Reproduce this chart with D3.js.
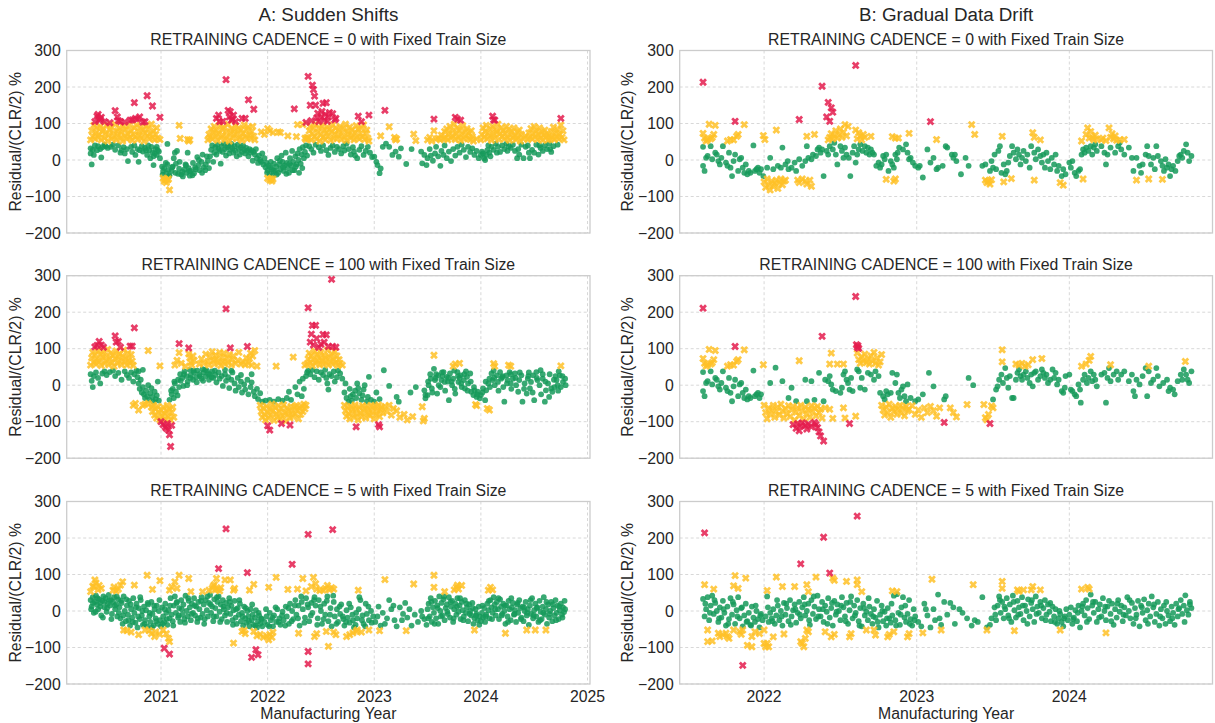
<!DOCTYPE html>
<html><head><meta charset="utf-8">
<script src="https://cdn.jsdelivr.net/npm/d3@7"></script>
<style>body{margin:0;background:#fff}svg{display:block}text{font-family:"Liberation Sans",Arial,sans-serif;fill:#262626}</style>
</head><body><svg id="c" width="1215" height="723"></svg>
<script>
// ---------- DATA: [manufacturing year, residual %] ----------
const a1Green=[[2020.34,32],[2020.34,18],[2020.35,-12],[2020.36,28],[2020.37,14],[2020.38,40],[2020.40,27],[2020.41,38],[2020.43,30],[2020.44,7],[2020.45,35],[2020.47,42],[2020.48,38],[2020.50,33],[2020.53,36],[2020.55,42],[2020.57,28],[2020.60,40],[2020.62,20],[2020.63,27],[2020.65,35],[2020.66,18],[2020.68,30],[2020.69,-3],[2020.72,36],[2020.73,22],[2020.75,40],[2020.76,14],[2020.78,30],[2020.79,-5],[2020.80,27],[2020.82,38],[2020.83,23],[2020.85,33],[2020.86,27],[2020.87,14],[2020.88,40],[2020.89,27],[2020.90,5],[2020.91,36],[2020.92,20],[2020.93,-14],[2020.94,18],[2020.95,30],[2020.96,14],[2020.97,27],[2020.98,23],[2020.99,5],[2020.96,36],[2020.93,10],
[2021.01,-18],[2021.02,-30],[2021.03,-22],[2021.05,-36],[2021.06,-12],[2021.07,-27],[2021.08,-42],[2021.10,-30],[2021.11,-18],[2021.12,5],[2021.13,20],[2021.14,-10],[2021.16,-38],[2021.17,-24],[2021.19,-40],[2021.20,-32],[2021.22,-26],[2021.23,-12],[2021.24,-35],[2021.26,-22],[2021.27,-43],[2021.28,-30],[2021.30,-8],[2021.31,-36],[2021.32,-20],[2021.34,8],[2021.35,-14],[2021.36,-28],[2021.38,-5],[2021.39,15],[2021.40,-20],[2021.42,-12],[2021.43,10],[2021.44,-2],[2021.45,-22],[2021.15,25],[2021.25,20],[2021.06,44],
[2021.46,10],[2021.47,28],[2021.48,40],[2021.49,-5],[2021.50,20],[2021.51,35],[2021.52,15],[2021.53,42],[2021.54,30],[2021.55,25],[2021.56,-10],[2021.57,38],[2021.58,22],[2021.59,45],[2021.60,30],[2021.61,12],[2021.62,35],[2021.63,40],[2021.64,18],[2021.65,28],[2021.66,44],[2021.67,32],[2021.68,20],[2021.69,38],[2021.70,25],[2021.71,10],[2021.72,42],[2021.73,30],[2021.74,15],[2021.75,35],[2021.76,22],[2021.77,40],[2021.78,28],[2021.79,18],[2021.80,33],[2021.81,25],[2021.82,10],[2021.83,30],[2021.84,20],[2021.85,26],[2021.86,-2],[2021.87,22],[2021.88,15],[2021.89,30],[2021.90,5],[2021.91,-8],[2021.92,12],[2021.93,0],[2021.94,-5],[2021.95,18],[2021.96,-12],[2021.97,5],
[2021.98,-20],[2021.99,-8],[2022.00,-28],[2022.01,-15],[2022.02,-38],[2022.03,-5],[2022.04,-25],[2022.05,-42],[2022.06,-10],[2022.07,-30],[2022.08,-18],[2022.09,5],[2022.10,-35],[2022.11,-12],[2022.12,-25],[2022.13,12],[2022.14,-5],[2022.15,-30],[2022.16,-15],[2022.17,20],[2022.18,-8],[2022.19,-22],[2022.20,-35],[2022.21,5],[2022.22,-15],[2022.23,25],[2022.24,-5],[2022.25,-28],[2022.26,10],[2022.27,-12],[2022.28,18],[2022.29,0],[2022.30,30],[2022.31,-10],[2022.32,15],[2022.33,35],[2022.34,5],[2022.35,22],[2022.36,40],[2022.37,12],
[2022.39,38],[2022.41,30],[2022.43,20],[2022.45,42],[2022.48,35],[2022.50,25],[2022.52,40],[2022.55,27],[2022.57,14],[2022.59,33],[2022.61,40],[2022.63,22],[2022.65,36],[2022.67,30],[2022.69,18],[2022.71,38],[2022.72,26],[2022.74,45],[2022.76,30],[2022.78,15],[2022.80,35],[2022.81,23],[2022.82,12],[2022.84,5],[2022.86,28],[2022.88,38],[2022.90,14],[2022.92,25],[2022.94,36],[2022.96,20],[2022.98,8],[2023.00,9],[2023.02,-5],[2023.03,-14],[2023.05,-36],[2023.06,-23],[2023.08,36],[2023.11,45],[2023.14,36],[2023.17,14],[2023.20,23],[2023.23,9],[2023.25,32],[2023.30,-11],[2023.35,30],[2023.44,23],[2023.45,-9],[2023.47,14],[2023.49,-14],[2023.50,5],[2023.52,30],[2023.53,12],[2023.55,-2],[2023.57,18],[2023.58,36],[2023.60,10],[2023.62,-16],[2023.63,25],[2023.65,14],[2023.66,40],[2023.68,5],[2023.70,23],[2023.72,-3],[2023.74,30],[2023.76,12],[2023.78,36],[2023.80,20],[2023.82,42],[2023.84,28],[2023.86,8],[2023.88,36],[2023.90,22],[2023.92,32],[2023.94,14],[2023.96,25],[2023.98,5],[2024.00,14],[2024.01,23],[2024.02,18],[2024.03,5],[2024.04,0],[2024.05,14],[2024.06,27],[2024.07,40],[2024.08,20],[2024.10,36],[2024.12,28],[2024.14,45],[2024.16,36],[2024.18,22],[2024.20,40],[2024.22,30],[2024.24,45],[2024.26,38],[2024.28,33],[2024.30,42],[2024.32,25],[2024.34,5],[2024.36,15],[2024.38,42],[2024.40,5],[2024.42,36],[2024.44,40],[2024.46,5],[2024.48,28],[2024.50,20],[2024.52,42],[2024.54,15],[2024.56,33],[2024.58,25],[2024.60,40],[2024.62,30],[2024.64,45],[2024.66,22],[2024.68,38]];
const a1GreenMore=[[2021.015,-40],[2021.045,-8],[2021.075,-45],[2021.105,-20],[2021.135,-35],[2021.175,-5],[2021.205,-45],[2021.235,-15],[2021.265,-30],[2021.295,-42],[2021.325,-25],[2021.355,0],[2021.385,-35],[2021.415,-28],[2021.995,-35],[2022.025,-20],[2022.055,-30],[2022.085,-40],[2022.115,-2],[2022.145,-20],[2022.175,-38],[2022.205,-10],[2022.235,-28],[2022.265,-18],[2022.295,-35],[2022.325,-22],[2024.09,10],[2024.15,20],[2024.25,25],[2024.35,30],[2024.45,20],[2024.55,40],[2024.65,30],[2024.72,42]];
const a1Yellow=[[2020.34,55],[2020.35,80],[2020.36,65],[2020.37,95],[2020.38,58],[2020.39,75],[2020.40,88],[2020.41,62],[2020.42,70],[2020.43,92],[2020.44,55],[2020.45,78],[2020.46,85],[2020.47,60],[2020.48,72],[2020.49,96],[2020.50,52],[2020.51,68],[2020.52,82],[2020.53,90],[2020.54,58],[2020.55,75],[2020.56,64],[2020.57,98],[2020.58,55],[2020.59,80],[2020.60,70],[2020.61,88],[2020.62,60],[2020.63,76],[2020.64,52],[2020.65,92],[2020.66,66],[2020.67,84],[2020.68,58],[2020.69,72],[2020.70,95],[2020.71,62],[2020.72,80],[2020.73,54],[2020.74,70],[2020.75,88],[2020.76,64],[2020.77,96],[2020.78,56],[2020.79,78],[2020.80,68],[2020.81,90],[2020.82,60],[2020.83,82],[2020.84,52],[2020.85,74],[2020.86,94],[2020.87,66],[2020.88,86],[2020.89,58],[2020.90,72],[2020.91,98],[2020.92,62],[2020.93,80],[2020.94,55],[2020.95,70],[2020.96,88],[2020.97,60],[2020.99,56],
[2021.02,-50],[2021.03,-58],[2021.04,-54],[2021.05,-62],[2021.06,-55],[2021.07,-52],[2021.08,-82],[2021.17,95],[2021.18,59],[2021.25,56],[2021.27,55],[2021.26,52],
[2021.44,55],[2021.45,70],[2021.46,62],[2021.47,85],[2021.48,58],[2021.49,76],[2021.50,92],[2021.51,65],[2021.52,80],[2021.53,54],[2021.54,72],[2021.55,96],[2021.56,60],[2021.57,84],[2021.58,68],[2021.59,90],[2021.60,56],[2021.61,78],[2021.62,64],[2021.63,98],[2021.64,52],[2021.65,74],[2021.66,86],[2021.67,60],[2021.68,80],[2021.69,70],[2021.70,94],[2021.71,58],[2021.72,76],[2021.73,88],[2021.74,62],[2021.75,82],[2021.76,54],[2021.77,72],[2021.78,96],[2021.79,66],[2021.80,84],[2021.81,58],[2021.82,90],[2021.83,70],[2021.84,60],[2021.85,78],[2021.86,92],[2021.87,65],[2021.88,55],
[2021.94,77],[2021.97,70],[2022.00,86],[2022.02,80],[2022.05,75],[2022.10,77],[2022.12,75],[2022.19,66],[2022.27,64],[2022.28,97],[2022.33,97],[2022.35,60],[2022.37,62],[2022.36,56],[2022.00,-50],[2022.02,-55],[2022.04,-58],[2022.05,-52],[2022.03,-52],
[2022.38,60],[2022.39,80],[2022.40,92],[2022.41,55],[2022.42,72],[2022.43,86],[2022.44,64],[2022.45,98],[2022.46,58],[2022.47,76],[2022.48,88],[2022.49,52],[2022.50,70],[2022.51,94],[2022.52,62],[2022.53,82],[2022.54,56],[2022.55,74],[2022.56,90],[2022.57,66],[2022.58,84],[2022.59,54],[2022.60,78],[2022.61,96],[2022.62,60],[2022.63,72],[2022.64,88],[2022.65,58],[2022.66,80],[2022.67,68],[2022.68,92],[2022.69,56],[2022.70,74],[2022.71,86],[2022.72,62],[2022.73,98],[2022.74,54],[2022.75,78],[2022.76,70],[2022.77,90],[2022.78,60],[2022.79,82],[2022.80,66],[2022.81,55],[2022.82,76],[2022.83,94],[2022.84,62],[2022.85,84],[2022.86,58],[2022.87,72],[2022.88,88],[2022.89,64],[2022.90,96],[2022.91,56],[2022.92,74],[2022.93,82],[2022.94,60],[2022.95,52],
[2023.06,66],[2023.14,91],[2023.19,62],[2023.20,55],[2023.21,58],[2023.37,71],[2023.39,53],[2023.50,55],[2023.52,62],[2023.54,52],[2023.56,80],[2023.58,58],
[2023.60,60],[2023.62,55],[2023.63,68],[2023.65,58],[2023.66,78],[2023.67,62],[2023.68,85],[2023.69,55],[2023.70,72],[2023.71,92],[2023.72,60],[2023.73,80],[2023.74,66],[2023.75,98],[2023.76,56],[2023.77,74],[2023.78,88],[2023.79,62],[2023.80,82],[2023.81,54],[2023.82,70],[2023.83,94],[2023.84,58],[2023.85,78],[2023.86,66],[2023.87,86],[2023.88,60],[2023.89,74],[2023.90,56],[2023.91,80],[2023.92,64],[2023.93,52],[2023.96,58],
[2024.00,55],[2024.01,70],[2024.02,88],[2024.03,62],[2024.04,78],[2024.05,95],[2024.06,58],[2024.07,74],[2024.08,66],[2024.09,86],[2024.10,54],[2024.11,92],[2024.12,70],[2024.13,60],[2024.14,82],[2024.15,76],[2024.16,98],[2024.17,56],[2024.18,72],[2024.19,88],[2024.20,64],[2024.21,80],[2024.22,58],[2024.23,74],[2024.24,92],[2024.25,62],[2024.26,84],[2024.27,54],[2024.28,70],[2024.29,78],[2024.30,60],[2024.31,88],[2024.32,66],[2024.33,56],[2024.34,76],[2024.35,62],[2024.36,82],[2024.37,52],[2024.38,70],[2024.40,58],[2024.42,66],[2024.44,56],[2024.45,74],[2024.46,62],[2024.47,86],[2024.48,58],[2024.49,72],[2024.50,92],[2024.51,64],[2024.52,80],[2024.53,56],[2024.54,70],[2024.55,88],[2024.56,60],[2024.57,76],[2024.58,54],[2024.59,68],[2024.60,82],[2024.61,62],[2024.62,72],[2024.63,55],[2024.64,66],[2024.65,58],[2024.66,78],[2024.67,62],[2024.68,90],[2024.69,56],[2024.70,74],[2024.71,64],[2024.72,84],[2024.73,58],[2024.74,70],[2024.75,96],[2024.76,62],[2024.77,80],[2024.78,55]];
const a1Red=[[2020.38,105],[2020.40,120],[2020.41,125],[2020.42,109],[2020.43,112],[2020.44,117],[2020.47,105],[2020.52,102],[2020.57,135],[2020.59,118],[2020.60,108],[2020.62,105],[2020.66,104],[2020.71,109],[2020.73,110],[2020.75,157],[2020.76,114],[2020.78,112],[2020.80,118],[2020.83,104],[2020.85,105],[2020.87,176],[2020.92,148],[2020.99,117],
[2021.52,114],[2021.54,123],[2021.55,105],[2021.58,106],[2021.61,220],[2021.63,136],[2021.64,118],[2021.65,132],[2021.66,109],[2021.67,112],[2021.68,123],[2021.70,105],[2021.76,114],[2021.79,114],[2021.82,165],[2021.87,139],
[2022.25,140],[2022.36,103],[2022.38,229],[2022.40,150],[2022.41,108],[2022.42,205],[2022.43,193],[2022.44,175],[2022.45,150],[2022.46,115],[2022.47,128],[2022.48,105],[2022.50,118],[2022.51,133],[2022.52,155],[2022.53,110],[2022.54,125],[2022.55,157],[2022.56,106],[2022.57,118],[2022.58,130],[2022.61,127],[2022.63,110],[2022.64,114],[2022.85,120],[2022.88,105],[2022.95,123],[2023.10,136],[2023.56,112],[2023.76,117],[2023.78,112],[2023.81,109],[2024.11,120],[2024.12,110],[2024.13,109],[2024.75,114]];

const a2Green=[[2020.34,30],[2020.35,12],[2020.36,-5],[2020.37,25],[2020.39,35],[2020.41,20],[2020.43,5],[2020.45,32],[2020.47,38],[2020.49,28],[2020.52,36],[2020.55,40],[2020.57,25],[2020.60,34],[2020.63,15],[2020.66,38],[2020.68,28],[2020.70,20],[2020.72,35],[2020.74,10],[2020.75,30],
[2020.77,40],[2020.78,22],[2020.79,5],[2020.80,-10],[2020.81,15],[2020.82,-20],[2020.83,-5],[2020.84,-25],[2020.85,-35],[2020.86,-15],[2020.87,-30],[2020.88,0],[2020.89,-40],[2020.90,-22],[2020.91,-8],[2020.92,-32],[2020.93,-45],[2020.94,-18],[2020.95,-38],[2020.96,-28],[2020.97,10],[2020.98,-42],[2020.79,38],[2020.83,42],
[2021.08,-40],[2021.10,-25],[2021.11,-10],[2021.12,-35],[2021.13,5],[2021.14,-18],[2021.16,15],[2021.17,-5],[2021.18,30],[2021.20,20],[2021.21,-2],[2021.22,38],[2021.24,25],[2021.25,10],[2021.27,42],[2021.28,28],[2021.30,15],[2021.31,35],[2021.33,22],[2021.34,40],[2021.36,30],[2021.38,18],[2021.39,44],
[2021.40,35],[2021.42,25],[2021.43,40],[2021.45,15],[2021.46,30],[2021.48,38],[2021.49,20],[2021.51,28],[2021.52,8],[2021.54,35],[2021.55,18],[2021.57,25],[2021.58,-2],[2021.60,30],[2021.61,12],[2021.63,22],[2021.64,-8],[2021.66,15],[2021.67,35],[2021.69,5],[2021.70,-15],[2021.72,20],[2021.73,-5],[2021.75,10],[2021.76,-20],[2021.78,2],[2021.79,-12],[2021.81,15],[2021.82,-25],[2021.84,-5],[2021.85,8],[2021.87,-18],[2021.88,-30],[2021.90,-10],[2021.91,-38],[2021.93,-22],[2021.95,-45],[2021.60,42],[2021.66,40],[2021.75,28],[2021.85,30],
[2021.98,-42],[2022.02,-40],[2022.06,-45],[2022.10,-38],[2022.14,-42],[2022.18,-35],[2022.20,-18],[2022.22,-40],[2022.26,-5],[2022.28,-25],[2022.30,10],[2022.32,-30],[2022.33,18],[2022.34,-10],[2022.36,25],[2022.37,35],[2022.38,40],
[2022.40,30],[2022.42,42],[2022.44,22],[2022.46,38],[2022.48,15],[2022.50,35],[2022.52,28],[2022.54,42],[2022.55,20],[2022.56,5],[2022.57,-12],[2022.58,30],[2022.60,25],[2022.62,38],[2022.63,10],[2022.65,22],[2022.66,40],[2022.68,32],[2022.70,18],
[2022.72,-20],[2022.73,5],[2022.74,-35],[2022.76,-45],[2022.77,-10],[2022.78,-30],[2022.79,-42],[2022.80,-25],[2022.82,-15],[2022.83,-35],[2022.84,5],[2022.85,-8],[2022.86,-22],[2022.88,-40],[2022.89,-28],[2022.90,-12],[2022.91,0],[2022.93,-45],[2022.94,-32],[2022.95,23],[2022.97,-40],[2023.00,-45],[2023.02,-20],[2023.05,-38],[2023.09,41],[2023.14,-2],[2023.21,-32],[2023.23,-45],[2023.34,-20],[2023.39,-5],[2023.48,-27],
[2023.47,-14],[2023.48,-36],[2023.50,-27],[2023.51,0],[2023.53,18],[2023.54,-9],[2023.56,45],[2023.57,14],[2023.59,-23],[2023.60,27],[2023.62,-5],[2023.63,14],[2023.65,36],[2023.66,9],[2023.68,23],[2023.70,-41],[2023.71,32],[2023.73,0],[2023.74,18],[2023.76,-23],[2023.78,36],[2023.79,9],[2023.81,27],[2023.82,-5],[2023.84,14],[2023.85,-9],[2023.87,23],[2023.88,5],[2023.90,32],[2023.91,-18],[2023.93,-27],[2023.94,-14],[2023.96,-32],[2023.97,-18],[2023.99,-36],[2024.00,-27],[2024.02,-9],[2024.04,-41],[2024.05,-14],[2024.07,5],[2024.08,18],[2024.10,32],[2024.11,14],[2024.13,0],[2024.15,27],[2024.16,9],[2024.18,36],[2024.19,18],[2024.21,-5],[2024.22,-45],[2024.24,27],[2024.25,14],[2024.27,36],[2024.28,5],[2024.30,18],[2024.32,32],[2024.33,0],[2024.35,-18],[2024.36,14],[2024.38,27],[2024.39,-45],[2024.41,5],[2024.43,-23],[2024.44,18],[2024.46,-9],[2024.47,9],[2024.49,27],[2024.50,-41],[2024.52,36],[2024.53,14],[2024.55,0],[2024.56,41],[2024.58,18],[2024.60,-45],[2024.61,-14],[2024.63,5],[2024.64,-32],[2024.66,-9],[2024.67,-18],[2024.69,-5],[2024.71,14],[2024.72,0],[2024.74,27],[2024.75,-5],[2024.77,9],[2024.79,18],
[2023.58,30],[2023.64,25],[2023.69,10],[2023.75,40],[2023.80,20],[2023.86,38],[2024.12,40],[2024.20,22],[2024.28,30],[2024.45,35],[2024.58,30],[2024.70,25],[2024.73,38]];
const a2GreenMore=[[2021.095,-15],[2021.125,10],[2021.155,-28],[2021.185,12],[2021.215,30],[2021.245,0],[2021.275,20],[2021.305,40],[2021.335,8],[2021.365,25],[2021.395,12],[2021.415,42],[2021.445,30],[2021.475,22],[2021.505,40],
[2023.505,10],[2023.525,30],[2023.545,-20],[2023.575,20],[2023.605,0],[2023.635,35],[2023.665,-15],[2023.695,20],[2023.725,10],[2023.755,-10],[2023.785,25],[2023.815,5],[2023.845,30],[2023.875,-15],[2023.905,10],[2023.935,-5],[2023.965,-25],[2024.015,-20],[2024.045,10],[2024.085,-5],[2024.125,20],[2024.165,-15],[2024.205,25],[2024.245,5],[2024.285,-10],[2024.325,20],[2024.365,35],[2024.405,-10],[2024.445,25],[2024.485,-20],[2024.525,20],[2024.565,-25],[2024.605,10],[2024.645,30],[2024.685,15],[2024.725,-15],[2024.765,25],[2024.795,0]];
const a2Yellow=[[2020.34,55],[2020.35,75],[2020.36,90],[2020.37,62],[2020.38,82],[2020.39,58],[2020.40,70],[2020.41,95],[2020.42,65],[2020.43,85],[2020.44,54],[2020.45,76],[2020.46,92],[2020.47,60],[2020.48,80],[2020.49,68],[2020.50,98],[2020.51,56],[2020.52,74],[2020.53,88],[2020.54,62],[2020.55,82],[2020.56,52],[2020.57,72],[2020.58,94],[2020.59,60],[2020.60,78],[2020.61,86],[2020.62,66],[2020.63,56],[2020.64,80],[2020.65,96],[2020.66,64],[2020.67,74],[2020.68,55],[2020.69,88],[2020.70,70],[2020.71,60],[2020.72,84],[2020.73,66],[2020.74,54],[2020.88,95],[2020.99,53],
[2020.74,-55],[2020.76,-50],[2020.79,-68],[2020.83,-55],[2020.85,-52],[2020.88,-50],[2020.91,-60],[2020.92,-72],[2020.93,-55],[2020.94,-82],[2020.95,-65],[2020.96,-90],[2020.97,-58],[2020.98,-75],[2020.99,-95],[2021.00,-68],[2021.01,-85],[2021.02,-60],[2021.03,-78],[2021.04,-92],[2021.05,-70],[2021.06,-55],[2021.07,-85],[2021.08,-65],[2021.09,-95],[2021.10,-75],[2021.11,-60],[2021.12,-88],
[2021.13,55],[2021.15,68],[2021.17,89],[2021.19,60],[2021.23,52],[2021.26,86],[2021.27,75],[2021.28,62],[2021.29,55],[2021.30,80],[2021.31,68],
[2021.36,58],[2021.38,72],[2021.40,60],[2021.42,85],[2021.44,65],[2021.45,55],[2021.46,78],[2021.48,92],[2021.49,68],[2021.50,58],[2021.51,82],[2021.52,72],[2021.54,62],[2021.55,90],[2021.56,54],[2021.57,76],[2021.58,66],[2021.59,88],[2021.60,58],[2021.62,74],[2021.63,62],[2021.64,84],[2021.66,55],[2021.67,70],[2021.68,80],[2021.70,60],[2021.72,68],[2021.73,90],[2021.75,58],[2021.77,64],[2021.79,56],[2021.80,75],[2021.82,60],[2021.83,73],[2021.84,88],[2021.85,55],[2021.86,80],[2021.88,95],[2021.90,52],
[2021.93,-55],[2021.94,-72],[2021.95,-88],[2021.96,-62],[2021.97,-80],[2021.98,-95],[2021.99,-58],[2022.00,-75],[2022.01,-90],[2022.02,-65],[2022.03,-82],[2022.04,-52],[2022.05,-70],[2022.06,-96],[2022.07,-60],[2022.08,-78],[2022.09,-88],[2022.10,-56],[2022.11,-72],[2022.12,-92],[2022.13,-64],[2022.14,-84],[2022.15,-54],[2022.16,-76],[2022.17,-98],[2022.18,-62],[2022.19,-80],[2022.20,-70],[2022.21,-90],[2022.22,-58],[2022.23,-74],[2022.24,-86],[2022.25,-60],[2022.26,-78],[2022.27,-55],[2022.28,-68],[2022.29,-92],[2022.30,-62],[2022.31,-80],[2022.32,-58],[2022.33,-72],[2022.34,-52],[2022.35,-65],[2022.36,-55],
[2022.08,52],[2022.24,77],[2022.35,55],
[2022.37,58],[2022.38,72],[2022.39,88],[2022.40,62],[2022.41,80],[2022.42,54],[2022.43,70],[2022.44,94],[2022.45,60],[2022.46,84],[2022.47,66],[2022.48,76],[2022.49,56],[2022.50,90],[2022.51,68],[2022.52,58],[2022.53,82],[2022.54,74],[2022.55,62],[2022.56,96],[2022.57,55],[2022.58,78],[2022.59,66],[2022.60,86],[2022.61,58],[2022.62,72],[2022.63,92],[2022.64,62],[2022.65,80],[2022.66,54],[2022.67,70],[2022.68,60],[2022.70,55],
[2022.72,-55],[2022.73,-70],[2022.74,-85],[2022.75,-60],[2022.76,-78],[2022.77,-92],[2022.78,-58],[2022.79,-74],[2022.80,-65],[2022.81,-88],[2022.82,-54],[2022.83,-80],[2022.84,-68],[2022.85,-95],[2022.86,-60],[2022.87,-76],[2022.88,-86],[2022.89,-56],[2022.90,-72],[2022.91,-64],[2022.92,-90],[2022.93,-58],[2022.94,-78],[2022.95,-68],[2022.96,-84],[2022.97,-55],[2022.98,-74],[2022.99,-62],[2023.00,-92],[2023.01,-58],[2023.02,-80],[2023.03,-70],[2023.04,-54],[2023.05,-86],[2023.06,-66],[2023.07,-60],[2023.08,-76],[2023.10,-58],[2023.12,-72],[2023.14,-55],[2023.16,-82],[2023.18,-64],[2023.21,-70],[2023.24,-88],[2023.28,-80],[2023.31,-95],[2023.36,-86],[2023.45,-59],[2023.47,-91],[2023.46,-98],
[2023.56,82],[2023.74,52],[2023.76,58],[2023.80,60],[2024.12,59],[2024.13,52],[2024.26,55],[2024.28,52],[2024.75,53],[2023.95,-53],[2023.96,-56],[2024.06,-64],[2024.08,-68]];
const a2Red=[[2020.38,105],[2020.40,109],[2020.42,120],[2020.44,110],[2020.46,104],[2020.57,135],[2020.58,118],[2020.60,120],[2020.62,104],[2020.71,107],[2020.73,107],[2020.75,157],
[2021.00,-100],[2021.02,-108],[2021.04,-114],[2021.05,-118],[2021.06,-105],[2021.07,-123],[2021.08,-136],[2021.09,-168],[2021.10,-110],
[2021.17,114],[2021.26,102],[2021.61,209],[2021.65,102],[2021.81,106],
[2022.00,-111],[2022.02,-123],[2022.13,-105],[2022.21,-109],
[2022.38,212],[2022.40,118],[2022.41,140],[2022.42,164],[2022.43,110],[2022.45,164],[2022.46,128],[2022.48,104],[2022.50,112],[2022.52,139],[2022.53,118],[2022.55,138],[2022.57,106],[2022.60,290],[2022.61,106],[2022.64,104],
[2022.83,-114],[2023.05,-114],[2023.04,-108]];

const a3Green=[[2020.34,30],[2020.35,12],[2020.36,38],[2020.37,-5],[2020.38,25],[2020.39,42],[2020.40,18],[2020.41,5],[2020.42,32],[2020.43,22],[2020.44,-12],[2020.45,28],[2020.46,40],[2020.47,10],[2020.48,35],[2020.49,-2],[2020.50,20],[2020.51,44],[2020.52,15],[2020.53,30],[2020.54,-8],[2020.55,25],[2020.56,38],[2020.57,5],[2020.58,18],[2020.59,-15],[2020.60,32],
[2020.61,10],[2020.62,-20],[2020.63,22],[2020.64,-35],[2020.65,40],[2020.66,0],[2020.67,-28],[2020.68,15],[2020.69,-10],[2020.70,28],[2020.71,-40],[2020.72,5],[2020.73,-18],[2020.74,35],[2020.75,-5],[2020.76,-32],[2020.77,20],[2020.78,-45],[2020.79,8],[2020.80,-22],[2020.81,30],[2020.82,-12],[2020.83,-38],[2020.84,12],[2020.85,-25],[2020.86,2],[2020.87,-42],[2020.88,18],[2020.89,-15],[2020.90,-30],[2020.91,25],[2020.92,-8],[2020.93,-40],[2020.94,5],[2020.95,-20],[2020.96,15],[2020.97,-35],[2020.98,0],[2020.99,-25],[2021.00,-42],[2021.01,10],[2021.02,-15],[2021.03,-30],[2021.04,20],[2021.05,-5],[2021.06,-38],[2021.07,2],[2021.08,-20],[2021.09,35],[2021.10,-10],
[2021.11,-28],[2021.12,15],[2021.13,40],[2021.14,-5],[2021.15,25],[2021.16,-18],[2021.17,8],[2021.18,-30],[2021.19,30],[2021.20,-10],[2021.21,18],[2021.22,-22],[2021.23,42],[2021.24,0],[2021.25,-15],[2021.26,28],[2021.27,10],[2021.28,-25],[2021.29,20],[2021.30,-5],[2021.31,35],[2021.32,-12],[2021.33,12],[2021.34,-30],[2021.35,25],[2021.36,5],[2021.37,-18],[2021.38,38],[2021.39,-8],[2021.40,18],[2021.41,-22],[2021.42,30],[2021.43,2],[2021.44,-15],[2021.45,22],[2021.46,44],[2021.47,-5],[2021.48,12],[2021.49,-28],[2021.50,32],
[2021.51,8],[2021.52,-15],[2021.53,25],[2021.54,40],[2021.55,-2],[2021.56,18],[2021.57,-22],[2021.58,30],[2021.59,5],[2021.60,-12],[2021.61,22],[2021.62,-30],[2021.63,10],[2021.64,35],[2021.65,-8],[2021.66,15],[2021.67,-25],[2021.68,2],[2021.69,28],[2021.70,-18],[2021.71,-35],[2021.72,8],[2021.73,-10],[2021.74,20],[2021.75,-28],[2021.76,-5],[2021.77,-40],[2021.78,12],[2021.79,-20],[2021.80,-32],[2021.81,0],[2021.82,-15],[2021.83,-42],[2021.84,5],[2021.85,-25],[2021.86,-10],[2021.87,-38],[2021.88,-18],[2021.89,2],[2021.90,-45],[2021.91,-28],[2021.92,-12],[2021.93,-35],[2021.94,-20],[2021.95,-42],
[2021.97,-30],[2021.99,-15],[2022.00,-38],[2022.02,-5],[2022.03,-25],[2022.05,-42],[2022.06,-12],[2022.08,-30],[2022.09,5],[2022.11,-20],[2022.12,-38],[2022.14,-2],[2022.15,-25],[2022.17,12],[2022.18,-15],[2022.20,-35],[2022.21,20],[2022.23,0],[2022.24,-22],[2022.26,30],[2022.27,-10],[2022.29,15],[2022.30,-40],[2022.32,25],[2022.33,5],[2022.35,-18],[2022.36,35],[2022.38,10],[2022.39,-28],[2022.41,22],[2022.42,-5],[2022.44,38],
[2022.45,15],[2022.47,-20],[2022.48,30],[2022.50,0],[2022.51,-35],[2022.53,20],[2022.54,-10],[2022.56,40],[2022.57,-28],[2022.59,8],[2022.60,-42],[2022.62,25],[2022.63,-15],[2022.65,5],[2022.66,-30],[2022.68,-8],[2022.69,18],[2022.71,-22],[2022.72,-40],[2022.74,2],[2022.75,-18],[2022.77,-32],[2022.78,10],[2022.80,-25],[2022.81,-45],[2022.83,-5],[2022.84,-20],[2022.86,38],[2022.87,30],[2022.89,-12],[2022.90,-35],[2022.92,20],[2022.93,-8],[2022.95,-25],[2022.97,0],[2022.99,-15],
[2023.01,-30],[2023.04,12],[2023.06,-40],[2023.08,-5],[2023.12,-20],[2023.14,30],[2023.16,5],[2023.19,-25],[2023.21,-42],[2023.24,10],[2023.27,-8],[2023.29,22],[2023.31,-18],[2023.35,-40],[2023.38,-10],[2023.41,-30],[2023.44,0],[2023.47,-22],[2023.49,-38],
[2023.50,5],[2023.51,20],[2023.52,-15],[2023.53,35],[2023.54,-30],[2023.55,10],[2023.56,-5],[2023.57,28],[2023.58,-20],[2023.59,15],[2023.60,-35],[2023.61,40],[2023.62,0],[2023.63,22],[2023.64,-12],[2023.65,32],[2023.66,-25],[2023.67,8],[2023.68,18],[2023.69,-8],[2023.70,38],[2023.71,-18],[2023.72,12],[2023.73,28],[2023.74,-30],[2023.75,5],[2023.76,20],[2023.77,-10],[2023.78,35],[2023.79,-2],[2023.80,15],[2023.81,-22],[2023.82,25],[2023.83,2],[2023.84,-15],[2023.85,30],[2023.86,-5],[2023.87,10],[2023.88,-28],[2023.89,18],[2023.90,0],[2023.91,-12],[2023.92,22],[2023.93,-35],[2023.94,-20],[2023.95,5],[2023.96,-8],[2023.97,-25],[2023.98,12],[2023.99,-15],
[2024.00,-28],[2024.01,-5],[2024.02,-18],[2024.03,8],[2024.04,-30],[2024.05,-10],[2024.06,20],[2024.07,2],[2024.08,-20],[2024.09,30],[2024.10,10],[2024.11,-5],[2024.12,38],[2024.13,18],[2024.14,-12],[2024.15,25],[2024.16,5],[2024.17,-22],[2024.18,32],[2024.19,12],[2024.20,-8],[2024.21,20],[2024.22,0],[2024.23,-35],[2024.24,15],[2024.25,-15],[2024.26,28],[2024.27,5],[2024.28,-25],[2024.29,10],[2024.30,22],[2024.31,-10],[2024.32,2],[2024.33,-30],[2024.34,18],[2024.35,-5],[2024.36,30],[2024.37,8],[2024.38,-18],[2024.39,12],[2024.40,-28],[2024.41,0],[2024.42,25],[2024.43,-12],[2024.44,5],[2024.45,-38],[2024.46,15],[2024.47,-8],[2024.48,35],[2024.49,-20],[2024.50,2],[2024.51,20],[2024.52,-15],[2024.53,10],[2024.54,-30],[2024.55,28],[2024.56,-2],[2024.57,-22],[2024.58,12],[2024.59,38],[2024.60,-10],[2024.61,5],[2024.62,-35],[2024.63,18],[2024.64,-18],[2024.65,0],[2024.66,25],[2024.67,-28],[2024.68,8],[2024.69,-12],[2024.70,30],[2024.71,-5],[2024.72,15],[2024.73,-22],[2024.74,2],[2024.75,20],[2024.76,-10],[2024.77,10],[2024.78,-3],[2024.79,5]];
const a3GreenMore=[[2020.345,5],[2020.362,22],[2020.388,-2],[2020.405,35],[2020.43,12],[2020.455,-18],[2020.47,25],[2020.495,8],[2020.515,30],[2020.535,-22],[2020.565,15],[2020.585,40],[2020.605,-5],[2020.625,28],[2020.645,-12],[2020.675,32],[2020.695,-25],[2020.715,18],[2020.735,-30],[2020.765,10],[2020.785,-15],[2020.805,38],[2020.825,0],[2020.845,-35],[2020.875,22],[2020.895,-5],[2020.915,-45],[2020.935,15],[2020.955,-28],[2020.985,30],[2021.015,-35],[2021.035,5],[2021.055,-22],[2021.085,15],[2021.115,-40],[2021.145,22],[2021.165,-12],[2021.195,5],[2021.225,-32],[2021.255,35],[2021.285,-8],[2021.315,15],[2021.345,-20],[2021.375,28],[2021.405,-35],[2021.435,40],[2021.465,18],[2021.495,-15],[2021.525,38],[2021.555,-30],[2021.585,12],[2021.615,-5],[2021.645,25],[2021.675,-38],[2021.705,5],[2021.735,30],[2021.765,-15],[2021.795,8],[2021.825,-28],[2021.855,18],[2021.885,-40],[2021.915,-5],[2021.945,-22],[2021.985,5],[2022.015,-42],[2022.045,-18],[2022.075,10],[2022.105,-30],[2022.135,-12],[2022.165,-40],[2022.195,8],[2022.225,-28],[2022.255,15],[2022.285,-20],[2022.315,40],[2022.345,-32],[2022.375,18],[2022.405,-12],[2022.435,30],[2022.465,-38],[2022.495,12],[2022.525,-22],[2022.555,28],[2022.585,-10],[2022.615,42],[2022.645,-35],[2022.675,12],[2022.705,-15],[2022.735,-30],[2022.765,20],[2022.795,-10],[2022.825,-38],[2022.855,5],[2022.885,-25],[2022.915,-42],[2022.945,12],[2022.975,-32],[2023.03,-15],[2023.10,-35],[2023.18,15],[2023.26,-25],[2023.33,5],[2023.45,-15],[2023.505,-20],[2023.535,25],[2023.565,-35],[2023.595,8],[2023.625,-15],[2023.655,40],[2023.685,-2],[2023.715,25],[2023.745,-20],[2023.775,12],[2023.805,35],[2023.835,-25],[2023.865,20],[2023.895,-8],[2023.925,8],[2023.955,-12],[2023.985,-38],[2024.015,15],[2024.045,-15],[2024.075,28],[2024.105,-22],[2024.135,5],[2024.165,35],[2024.195,-12],[2024.225,15],[2024.255,-30],[2024.285,35],[2024.315,-8],[2024.345,22],[2024.375,-22],[2024.405,10],[2024.435,-5],[2024.465,30],[2024.495,-12],[2024.525,8],[2024.555,-25],[2024.585,-5],[2024.615,25],[2024.645,-8],[2024.675,18],[2024.705,-25],[2024.735,12],[2024.765,-18],[2024.785,28]];
const a3Yellow=[[2020.34,53],[2020.36,68],[2020.37,66],[2020.38,85],[2020.39,77],[2020.41,58],[2020.42,70],[2020.44,62],[2020.55,57],[2020.56,66],[2020.58,55],[2020.60,60],[2020.62,71],[2020.64,80],[2020.75,71],[2020.87,98],[2020.92,59],[2020.99,83],[2021.08,57],[2021.10,66],[2021.13,80],[2021.15,62],[2021.17,98],[2021.26,89],[2021.28,53],[2021.39,53],[2021.45,57],[2021.48,62],[2021.49,68],[2021.50,72],[2021.51,58],[2021.52,89],[2021.53,60],[2021.55,55],[2021.56,64],[2021.60,85],[2021.65,85],[2021.68,57],[2021.69,62],[2021.83,57],[2021.87,73],[2022.01,65],[2022.08,92],[2022.19,59],[2022.28,60],[2022.33,89],[2022.36,55],[2022.41,67],[2022.43,92],[2022.45,75],[2022.46,60],[2022.49,56],[2022.52,57],[2022.54,62],[2022.56,70],[2022.58,58],[2022.60,64],[2022.62,60],[2022.85,57],[2023.10,86],[2023.37,74],[2023.56,98],[2023.56,65],[2023.66,53],[2023.75,58],[2023.77,65],[2023.78,71],[2023.79,60],[2023.82,70],[2024.07,57],[2024.09,65],[2024.11,58],
[2020.65,-52],[2020.68,-54],[2020.72,-58],[2020.79,-65],[2020.85,-52],[2020.89,-54],[2020.91,-62],[2020.94,-70],[2020.95,-57],[2020.99,-64],[2021.02,-52],[2021.05,-62],[2021.07,-75],[2021.08,-84],[2021.68,-88],[2021.76,-56],[2021.78,-53],[2021.79,-62],[2021.87,-56],[2021.90,-68],[2021.93,-64],[2021.96,-72],[2021.99,-68],[2022.01,-79],[2022.02,-64],[2022.04,-72],[2022.05,-58],[2022.29,-61],[2022.44,-70],[2022.46,-62],[2022.55,-56],[2022.57,-97],[2022.62,-58],[2022.64,-65],[2022.74,-70],[2022.77,-65],[2022.80,-60],[2022.83,-56],[2022.84,-52],[2022.88,-58],[2022.95,-52],[2023.05,-54],[2023.30,-54],[2023.94,-52],[2024.23,-61],[2024.43,-52],[2024.51,-52],[2024.61,-52]];
const a3Red=[[2021.03,-102],[2021.08,-118],[2021.54,116],[2021.61,225],[2021.81,105],[2021.85,-127],[2021.89,-106],[2021.91,-120],[2022.23,128],[2022.38,210],[2022.38,-111],[2022.38,-145],[2022.61,223]];

const b1Green=[[2021.60,36],[2021.60,-16],[2021.61,-30],[2021.62,6],[2021.63,11],[2021.65,38],[2021.66,2],[2021.68,20],[2021.69,15],[2021.70,-3],[2021.71,-12],[2021.72,6],[2021.73,38],[2021.75,-7],[2021.76,-16],[2021.77,20],[2021.78,-21],[2021.79,-44],[2021.80,-3],[2021.81,15],[2021.83,-30],[2021.84,2],[2021.85,6],[2021.86,-21],[2021.87,-35],[2021.88,-12],[2021.89,-39],[2021.90,-30],[2021.91,-35],[2021.93,40],[2021.94,-30],[2021.95,-25],[2021.96,-21],[2021.97,-35],[2021.98,-25],[2021.995,-44],[2022.02,-21],[2022.04,6],[2022.06,-25],[2022.09,-16],[2022.11,-21],[2022.12,34],[2022.14,-12],[2022.155,-3],[2022.16,-25],[2022.18,-21],[2022.20,-7],[2022.21,-30],[2022.23,2],[2022.25,-16],[2022.27,-3],[2022.28,38],[2022.29,6],[2022.31,2],[2022.32,15],[2022.34,11],[2022.35,29],[2022.36,34],[2022.37,20],[2022.38,29],[2022.39,-44],[2022.41,25],[2022.42,15],[2022.43,38],[2022.45,29],[2022.46,47],[2022.47,15],[2022.48,-12],[2022.50,38],[2022.51,25],[2022.52,6],[2022.53,34],[2022.54,15],[2022.555,6],[2022.565,-44],[2022.58,20],[2022.59,38],[2022.60,-7],[2022.61,15],[2022.62,29],[2022.63,43],[2022.645,25],[2022.66,38],[2022.67,20],[2022.68,34],[2022.69,15],[2022.70,29],[2022.71,20],[2022.72,15],[2022.735,-16],[2022.75,-7],[2022.76,-21],[2022.77,-12],[2022.78,11],[2022.79,2],[2022.80,15],[2022.815,-30],[2022.83,-3],[2022.84,-12],[2022.85,-21],[2022.86,15],[2022.87,2],[2022.875,20],[2022.885,34],[2022.91,29],[2022.93,43],[2022.94,20],[2022.95,2],[2022.96,6],[2022.975,-7],[2022.99,-16],[2023.01,-21],[2023.02,-16],[2023.04,-48],[2023.07,29],[2023.09,-7],[2023.11,6],[2023.13,-25],[2023.14,-21],[2023.17,-16],[2023.19,38],[2023.20,34],[2023.23,15],[2023.24,6],[2023.25,15],[2023.26,-3],[2023.29,-39],[2023.32,6],[2023.34,-16],[2023.43,-16],[2023.45,-12],[2023.48,-30],[2023.49,-3],[2023.50,-21],[2023.51,15],[2023.52,-25],[2023.535,25],[2023.545,38],[2023.555,-35],[2023.57,-12],[2023.58,-39],[2023.59,-30],[2023.60,-7],[2023.61,11],[2023.625,38],[2023.635,20],[2023.65,2],[2023.66,29],[2023.67,15],[2023.68,-12],[2023.69,6],[2023.70,25],[2023.715,-3],[2023.725,15],[2023.74,-21],[2023.75,38],[2023.77,20],[2023.78,2],[2023.795,29],[2023.81,11],[2023.82,-7],[2023.83,15],[2023.84,-21],[2023.85,20],[2023.86,-3],[2023.875,-25],[2023.885,6],[2023.90,-12],[2023.91,15],[2023.92,-30],[2023.93,-16],[2023.95,-44],[2023.96,-25],[2023.975,-39],[2024.00,-7],[2024.01,-21],[2024.02,-3],[2024.035,-35],[2024.045,-44],[2024.06,-30],[2024.07,-25],[2024.08,15],[2024.09,29],[2024.10,20],[2024.11,34],[2024.125,25],[2024.14,38],[2024.15,15],[2024.16,34],[2024.17,43],[2024.18,25],[2024.21,38],[2024.23,20],[2024.24,-12],[2024.25,15],[2024.27,34],[2024.30,20],[2024.32,38],[2024.33,47],[2024.34,29],[2024.36,15],[2024.39,34],[2024.41,6],[2024.42,-30],[2024.44,6],[2024.46,-16],[2024.47,-35],[2024.48,-12],[2024.50,15],[2024.51,38],[2024.52,11],[2024.535,-12],[2024.55,6],[2024.56,-25],[2024.57,38],[2024.58,11],[2024.60,-3],[2024.61,-16],[2024.62,-30],[2024.63,2],[2024.64,-21],[2024.65,-12],[2024.66,-44],[2024.67,-25],[2024.68,-16],[2024.695,-30],[2024.71,-3],[2024.72,11],[2024.73,15],[2024.74,6],[2024.75,25],[2024.765,43],[2024.775,20],[2024.785,-3],[2024.80,11]];
const b1Yellow=[[2021.60,73],[2021.61,60],[2021.62,52],[2021.63,56],[2021.64,98],[2021.65,58],[2021.66,62],[2021.67,70],[2021.68,95],[2021.76,52],[2021.78,56],[2021.80,55],[2021.82,65],[2021.83,70],[2021.87,97],[2021.995,67],[2022.005,56],[2022.08,82],[2022.28,65],[2022.33,70],[2022.42,55],[2022.43,62],[2022.44,72],[2022.45,58],[2022.46,66],[2022.47,80],[2022.48,60],[2022.49,70],[2022.50,85],[2022.51,62],[2022.52,76],[2022.53,97],[2022.54,66],[2022.55,92],[2022.60,82],[2022.61,58],[2022.62,75],[2022.63,65],[2022.64,55],[2022.65,70],[2022.66,62],[2022.70,65],[2022.84,64],[2022.86,60],[2022.88,60],[2022.95,73],[2023.13,56],[2023.36,97],[2023.38,70],[2023.56,65],[2023.76,75],[2023.77,62],[2023.81,55],[2024.08,52],[2024.11,70],[2024.12,88],[2024.13,60],[2024.14,78],[2024.15,62],[2024.16,55],[2024.17,68],[2024.18,58],[2024.21,55],[2024.22,60],[2024.24,53],[2024.26,88],[2024.27,62],[2024.28,72],[2024.29,58],[2024.30,66],[2024.31,54],[2024.33,55],[2024.36,56],
[2022.00,-60],[2022.01,-75],[2022.02,-52],[2022.03,-68],[2022.04,-82],[2022.05,-58],[2022.06,-72],[2022.07,-64],[2022.08,-55],[2022.09,-78],[2022.10,-62],[2022.11,-52],[2022.12,-68],[2022.13,-58],[2022.14,-55],[2022.22,-55],[2022.23,-62],[2022.25,-52],[2022.27,-58],[2022.28,-66],[2022.30,-55],[2022.31,-72],[2022.80,-53],[2022.86,-52],[2022.85,-58],[2023.45,-55],[2023.46,-62],[2023.47,-58],[2023.48,-66],[2023.49,-54],[2023.57,-60],[2023.62,-51],[2023.77,-55],[2023.94,-62],[2023.96,-69],[2024.09,-52],[2024.44,-55],[2024.52,-52],[2024.61,-53]];
const b1Red=[[2021.60,213],[2021.81,106],[2022.23,111],[2022.38,202],[2022.42,158],[2022.44,143],[2022.45,131],[2022.41,118],[2022.43,106],[2022.60,259],[2023.09,105]];

const b2Green=[[2021.60,36],[2021.60,-16],[2021.61,-30],[2021.62,6],[2021.63,11],[2021.65,38],[2021.66,2],[2021.68,20],[2021.69,15],[2021.70,-3],[2021.71,-12],[2021.72,6],[2021.73,38],[2021.75,-7],[2021.76,-16],[2021.77,20],[2021.78,-21],[2021.79,-44],[2021.80,-3],[2021.81,15],[2021.83,-30],[2021.84,2],[2021.85,6],[2021.86,-21],[2021.87,-35],[2021.88,-12],[2021.89,-39],[2021.90,-30],[2021.91,-35],[2021.93,40],[2021.94,-30],[2021.95,-25],[2021.96,-21],[2021.97,-35],[2021.98,-25],
[2022.04,6],[2022.075,48],[2022.12,11],[2022.16,-35],[2022.18,-7],[2022.21,-44],[2022.27,15],[2022.28,-44],[2022.31,11],[2022.33,-40],[2022.36,34],[2022.39,-44],[2022.40,15],[2022.42,11],[2022.43,25],[2022.44,2],[2022.45,-12],[2022.47,-16],[2022.50,-21],[2022.51,-7],[2022.52,29],[2022.53,38],[2022.54,15],[2022.55,6],[2022.56,-12],[2022.57,20],[2022.58,-16],[2022.61,43],[2022.62,38],[2022.63,-7],[2022.64,20],[2022.66,-12],[2022.68,34],[2022.70,29],[2022.72,15],[2022.73,38],[2022.75,25],
[2022.76,-21],[2022.78,-30],[2022.79,-39],[2022.80,-16],[2022.81,-25],[2022.83,-21],[2022.84,34],[2022.86,6],[2022.87,29],[2022.88,-21],[2022.89,-35],[2022.90,-12],[2022.91,-3],[2022.92,-30],[2022.93,-44],[2022.94,2],[2022.96,-35],[2022.99,-44],[2023.01,-39],[2023.04,-25],[2023.08,34],[2023.11,-3],[2023.18,-39],[2023.19,-30],[2023.34,20],[2023.37,0],
[2023.50,-39],[2023.52,-12],[2023.53,-3],[2023.54,15],[2023.555,29],[2023.565,6],[2023.58,47],[2023.59,20],[2023.60,-7],[2023.61,25],[2023.625,-35],[2023.635,-35],[2023.65,15],[2023.66,34],[2023.67,43],[2023.68,25],[2023.69,15],[2023.70,29],[2023.715,38],[2023.725,20],[2023.74,6],[2023.75,29],[2023.76,-3],[2023.77,34],[2023.78,38],[2023.795,15],[2023.81,25],[2023.82,43],[2023.83,34],[2023.84,20],[2023.85,29],[2023.86,6],[2023.875,15],[2023.89,43],[2023.90,20],[2023.91,34],[2023.92,2],[2023.93,15],[2023.95,-16],[2023.96,-21],[2023.97,-7],[2023.975,25],[2024.00,29],[2024.01,-12],[2024.02,-16],[2024.035,-25],[2024.045,-30],[2024.06,2],[2024.07,-12],[2024.075,-48],[2024.09,15],[2024.10,29],[2024.115,6],[2024.125,20],[2024.14,38],[2024.15,11],[2024.16,29],[2024.17,15],[2024.18,-3],[2024.21,29],[2024.23,34],[2024.24,-48],[2024.25,20],[2024.26,47],[2024.27,11],[2024.29,29],[2024.31,38],[2024.32,15],[2024.34,29],[2024.36,38],[2024.39,11],[2024.41,29],[2024.42,-16],[2024.43,-30],[2024.44,15],[2024.46,2],[2024.48,25],[2024.50,47],[2024.51,-30],[2024.52,38],[2024.535,6],[2024.55,15],[2024.57,47],[2024.58,25],[2024.59,-3],[2024.615,6],[2024.64,15],[2024.65,-16],[2024.66,-7],[2024.68,-12],[2024.69,-25],[2024.71,11],[2024.73,29],[2024.74,15],[2024.75,43],[2024.765,29],[2024.775,15],[2024.785,6],[2024.80,38]];
const b2Yellow=[[2021.60,73],[2021.61,60],[2021.62,52],[2021.63,56],[2021.64,98],[2021.65,58],[2021.66,62],[2021.67,70],[2021.68,95],[2021.76,52],[2021.78,56],[2021.80,55],[2021.82,65],[2021.83,70],[2021.87,97],[2021.995,56],[2022.23,67],[2022.44,88],[2022.43,58],[2022.48,58],[2022.52,58],[2022.61,88],[2022.62,70],[2022.63,60],[2022.64,78],[2022.65,66],[2022.66,85],[2022.67,62],[2022.68,72],[2022.69,58],[2022.70,80],[2022.71,66],[2022.72,90],[2022.73,60],[2022.74,75],[2022.75,55],[2022.77,84],[2022.76,64],[2023.56,97],[2023.56,64],[2023.65,58],[2023.67,55],[2023.69,60],[2023.71,52],[2023.73,56],[2023.76,70],[2023.82,73],[2024.08,52],[2024.11,58],[2024.14,79],[2024.13,68],[2024.27,56],[2024.52,52],[2024.76,65],
[2022.00,-55],[2022.01,-75],[2022.02,-92],[2022.03,-62],[2022.04,-80],[2022.05,-68],[2022.06,-55],[2022.07,-88],[2022.08,-72],[2022.09,-60],[2022.10,-82],[2022.11,-52],[2022.12,-70],[2022.13,-90],[2022.14,-64],[2022.15,-78],[2022.16,-56],[2022.17,-86],[2022.18,-68],[2022.19,-58],[2022.20,-95],[2022.21,-74],[2022.22,-62],[2022.23,-84],[2022.24,-55],[2022.25,-70],[2022.26,-92],[2022.27,-60],[2022.28,-78],[2022.29,-66],[2022.30,-88],[2022.31,-56],[2022.32,-72],[2022.33,-62],[2022.34,-84],[2022.35,-58],[2022.36,-75],[2022.37,-66],[2022.38,-90],[2022.40,-62],[2022.43,-66],[2022.45,-91],[2022.52,-62],[2022.53,-90],[2022.60,-85],
[2022.77,-55],[2022.78,-68],[2022.79,-82],[2022.80,-60],[2022.81,-75],[2022.82,-52],[2022.83,-88],[2022.84,-64],[2022.85,-72],[2022.86,-58],[2022.87,-80],[2022.88,-66],[2022.89,-55],[2022.90,-76],[2022.91,-62],[2022.92,-84],[2022.93,-58],[2022.94,-70],[2022.95,-66],[2022.97,-56],[2022.99,-80],[2023.01,-68],[2023.03,-88],[2023.05,-62],[2023.07,-75],[2023.09,-58],[2023.11,-70],[2023.13,-85],[2023.15,-62],[2023.22,-62],[2023.24,-75],[2023.26,-87],[2023.33,-53],[2023.44,-53],[2023.45,-89],[2023.46,-95],[2023.47,-80],[2023.49,-57],[2023.50,-62]];
const b2Red=[[2021.60,211],[2021.81,106],[2022.38,134],[2022.60,243],[2022.605,111],[2022.61,104],[2022.615,108],[2022.62,101],[2022.19,-108],[2022.21,-118],[2022.22,-105],[2022.23,-125],[2022.24,-112],[2022.25,-103],[2022.27,-110],[2022.28,-120],[2022.29,-106],[2022.31,-114],[2022.33,-102],[2022.34,-108],[2022.35,-116],[2022.36,-128],[2022.37,-139],[2022.39,-153],[2022.56,-105],[2023.18,-102],[2023.48,-105]];

const b3Green=[[2021.60,33],[2021.61,-15],[2021.62,5],[2021.63,38],[2021.64,-25],[2021.65,15],[2021.66,42],[2021.67,-8],[2021.68,22],[2021.69,0],[2021.70,-30],[2021.71,10],[2021.72,-18],[2021.73,28],[2021.74,-5],[2021.75,-40],[2021.76,12],[2021.77,-22],[2021.78,35],[2021.79,-10],[2021.80,18],[2021.81,-35],[2021.82,2],[2021.83,38],[2021.84,-20],[2021.85,8],[2021.86,-42],[2021.87,-12],[2021.88,20],[2021.89,-28],[2021.90,-5],[2021.91,-38],[2021.92,12],[2021.93,-18],[2021.94,-30],[2021.95,0],[2021.96,-22],[2021.97,-45],[2021.98,-8],[2021.99,-25],
[2022.01,-15],[2022.02,40],[2022.03,-30],[2022.04,-5],[2022.05,-20],[2022.06,5],[2022.07,-35],[2022.08,-12],[2022.09,15],[2022.10,-25],[2022.11,0],[2022.12,-40],[2022.13,22],[2022.14,-10],[2022.15,8],[2022.16,-28],[2022.17,30],[2022.18,-15],[2022.19,2],[2022.20,18],[2022.21,-32],[2022.22,-5],[2022.23,25],[2022.24,-20],[2022.25,10],[2022.26,38],[2022.27,-12],[2022.28,0],[2022.29,20],[2022.30,-38],[2022.31,30],[2022.32,-8],[2022.33,12],[2022.34,-22],[2022.35,42],[2022.36,5],[2022.37,-15],[2022.38,25],[2022.39,-30],[2022.40,15],[2022.41,-2],[2022.42,35],[2022.43,-18],[2022.44,8],[2022.45,-40],[2022.46,28],[2022.47,-10],[2022.48,18],[2022.49,0],[2022.50,-25],
[2022.51,38],[2022.52,10],[2022.53,-15],[2022.54,22],[2022.55,-35],[2022.56,2],[2022.57,40],[2022.58,-20],[2022.59,15],[2022.60,-5],[2022.61,30],[2022.62,-28],[2022.63,8],[2022.64,-42],[2022.65,20],[2022.66,-12],[2022.67,-2],[2022.68,-25],[2022.69,12],[2022.70,-8],[2022.71,-35],[2022.72,5],[2022.73,-18],[2022.74,28],[2022.75,-45],[2022.76,-10],[2022.77,15],[2022.78,-28],[2022.79,-2],[2022.80,-40],[2022.81,8],[2022.82,-20],[2022.83,-32],[2022.84,-12],[2022.85,42],[2022.86,-25],[2022.87,46],[2022.88,-5],[2022.89,-38],[2022.90,10],[2022.91,38],[2022.92,-18],[2022.93,-30],[2022.94,-8],[2022.95,30],[2022.96,-22],[2022.97,-40],[2022.98,5],[2022.99,-15],
[2023.01,-30],[2023.03,-42],[2023.05,20],[2023.07,-12],[2023.09,-45],[2023.11,5],[2023.12,-25],[2023.14,45],[2023.16,-38],[2023.18,25],[2023.20,-10],[2023.22,22],[2023.25,-35],[2023.28,5],[2023.30,-5],[2023.33,-20],[2023.36,-40],[2023.40,-30],[2023.43,38],[2023.46,-45],[2023.48,-38],[2023.49,-20],
[2023.51,10],[2023.52,-25],[2023.53,15],[2023.54,40],[2023.55,-5],[2023.56,25],[2023.57,-20],[2023.58,5],[2023.59,35],[2023.60,-12],[2023.61,18],[2023.62,-30],[2023.63,42],[2023.64,2],[2023.65,-18],[2023.66,28],[2023.67,10],[2023.68,-8],[2023.69,38],[2023.70,-25],[2023.71,15],[2023.72,0],[2023.73,32],[2023.74,-15],[2023.75,22],[2023.76,5],[2023.77,-30],[2023.78,40],[2023.79,12],[2023.80,-5],[2023.81,25],[2023.82,-20],[2023.83,8],[2023.84,30],[2023.85,-10],[2023.86,18],[2023.87,-2],[2023.88,-28],[2023.89,12],[2023.90,-15],[2023.91,5],[2023.92,-35],[2023.93,-20],[2023.94,-8],[2023.95,-30],[2023.96,-42],[2023.97,-15],[2023.98,5],[2023.99,-25],
[2024.00,-10],[2024.01,10],[2024.02,-35],[2024.03,-18],[2024.04,2],[2024.05,-28],[2024.06,15],[2024.07,-45],[2024.08,0],[2024.09,20],[2024.10,-12],[2024.11,30],[2024.12,8],[2024.13,-22],[2024.14,45],[2024.15,15],[2024.16,-5],[2024.17,25],[2024.18,-30],[2024.19,5],[2024.20,18],[2024.21,-15],[2024.22,35],[2024.23,0],[2024.24,-25],[2024.25,12],[2024.26,28],[2024.27,-8],[2024.28,20],[2024.29,-38],[2024.30,5],[2024.31,-18],[2024.32,30],[2024.33,-2],[2024.34,15],[2024.35,-28],[2024.36,10],[2024.37,-12],[2024.38,38],[2024.39,0],[2024.40,-20],[2024.41,22],[2024.42,-35],[2024.43,8],[2024.44,-10],[2024.45,28],[2024.46,-42],[2024.47,15],[2024.48,-5],[2024.49,32],[2024.50,-25],[2024.51,2],[2024.52,20],[2024.53,-15],[2024.54,40],[2024.55,10],[2024.56,-30],[2024.57,-8],[2024.58,25],[2024.59,-40],[2024.60,5],[2024.61,-20],[2024.62,15],[2024.63,-35],[2024.64,0],[2024.65,-12],[2024.66,-28],[2024.67,12],[2024.68,-5],[2024.69,-38],[2024.70,20],[2024.71,-15],[2024.72,8],[2024.73,30],[2024.74,-8],[2024.75,15],[2024.76,43],[2024.77,2],[2024.78,-10],[2024.79,18],[2024.80,8]];
const b3GreenMore=[[2021.615,20],[2021.645,-5],[2021.675,30],[2021.705,-20],[2021.735,5],[2021.765,-35],[2021.795,25],[2021.825,-15],[2021.855,10],[2021.885,-30],[2021.915,-40],[2021.945,15],[2021.975,-12],[2022.025,10],[2022.055,-28],[2022.085,30],[2022.115,-15],[2022.145,20],[2022.175,-38],[2022.205,5],[2022.235,-10],[2022.265,18],[2022.295,-25],[2022.325,40],[2022.355,-15],[2022.385,5],[2022.415,-35],[2022.445,22],[2022.475,-2],[2022.505,15],[2022.535,-28],[2022.565,25],[2022.595,-12],[2022.625,-40],[2022.655,8],[2022.685,35],[2022.715,-15],[2022.745,-30],[2022.775,0],[2022.805,-20],[2022.835,20],[2022.865,-40],[2022.895,-10],[2022.925,15],[2022.955,-35],[2022.985,-25],[2023.06,5],[2023.15,-20],[2023.24,10],[2023.38,-25],[2023.515,-10],[2023.545,30],[2023.575,12],[2023.605,-20],[2023.635,25],[2023.665,-10],[2023.695,15],[2023.725,-35],[2023.755,30],[2023.785,-8],[2023.815,15],[2023.845,-25],[2023.875,22],[2023.905,-30],[2023.935,0],[2023.965,-20],[2024.025,-22],[2024.055,-5],[2024.085,12],[2024.115,-30],[2024.155,25],[2024.195,-18],[2024.235,12],[2024.275,-28],[2024.315,20],[2024.355,-10],[2024.395,30],[2024.435,-20],[2024.475,10],[2024.515,-35],[2024.555,18],[2024.595,-15],[2024.635,25],[2024.675,-20],[2024.715,5],[2024.755,-30],[2024.79,25]];
const b3Yellow=[[2021.61,72],[2021.67,60],[2021.80,69],[2021.81,97],[2021.83,62],[2021.88,90],[2022.02,56],[2022.08,93],[2022.12,67],[2022.20,67],[2022.28,72],[2022.29,53],[2022.34,93],[2022.45,90],[2022.46,84],[2022.54,81],[2022.61,85],[2022.61,72],[2022.64,53],[2022.84,55],[2022.87,53],[2023.10,87],[2023.37,72],[2023.56,81],[2023.56,62],[2023.66,58],[2023.67,54],[2023.70,58],[2023.75,58],[2023.76,67],[2023.81,58],[2024.08,60],[2024.12,65],[2024.13,60],
[2021.63,-52],[2021.63,-84],[2021.66,-82],[2021.70,-61],[2021.71,-70],[2021.73,-65],[2021.75,-61],[2021.76,-70],[2021.77,-75],[2021.80,-52],[2021.84,-57],[2021.85,-64],[2021.86,-52],[2021.89,-94],[2021.92,-98],[2021.92,-70],[2021.94,-57],[2021.97,-62],[2022.00,-52],[2022.00,-89],[2022.01,-98],[2022.02,-89],[2022.03,-98],[2022.06,-71],[2022.13,-63],[2022.24,-84],[2022.25,-89],[2022.26,-98],[2022.27,-75],[2022.28,-52],[2022.29,-57],[2022.40,-57],[2022.44,-71],[2022.46,-64],[2022.56,-71],[2022.57,-62],[2022.67,-52],[2022.72,-52],[2022.73,-66],[2022.81,-71],[2022.82,-64],[2022.85,-57],[2022.94,-71],[2022.95,-62],[2023.04,-60],[2023.16,-52],[2023.46,-52],[2023.64,-54],[2023.94,-52],[2024.24,-60]];
const b3Red=[[2021.61,214],[2021.86,-149],[2022.24,129],[2022.39,202],[2022.43,104],[2022.61,260]];

const leftYearTicks=[2021,2022,2023,2024,2025];
const rightYearTicks=[2022,2023,2024];
const residualTicks=[-200,-100,0,100,200,300];
const columnTitles=["A: Sudden Shifts","B: Gradual Data Drift"];
const cadences=[0,100,5];
const panelData=[
  [a1Green.concat(a1GreenMore),a1Yellow,a1Red],
  [a2Green.concat(a2GreenMore),a2Yellow,a2Red],
  [a3Green.concat(a3GreenMore),a3Yellow,a3Red],
  [b1Green,b1Yellow,b1Red],
  [b2Green,b2Yellow,b2Red],
  [b3Green.concat(b3GreenMore),b3Yellow,b3Red]];

// ---------- LAYOUT ----------
const svg=d3.select("#c");
const cols=[
  {x0:66.7,x1:590,dom:[2020.1156,2025.0234],ticks:leftYearTicks,labX:15,title:columnTitles[0]},
  {x0:679.7,x1:1212.5,dom:[2021.447,2024.938],ticks:rightYearTicks,labX:627,title:columnTitles[1]}
];
const rowTops=[50.5,275.7,501.5], H=182.5;
const COLORS={green:"#169a5b",yellow:"#ffc127",red:"#e41c4d"};
const xMark=d3.symbol(d3.symbolCross).size(38)();
const FS="15.8px";

cols.forEach((c,ci)=>{
  const x=d3.scaleLinear().domain(c.dom).range([c.x0,c.x1]);
  svg.append("text").attr("x",(c.x0+c.x1)/2).attr("y",20.5).attr("text-anchor","middle")
     .style("font-size","18.8px").text(c.title);
  rowTops.forEach((top,ri)=>{
    const y=d3.scaleLinear().domain([-200,300]).range([top+H,top]);
    const g=svg.append("g");
    g.selectAll(".gx").data(c.ticks).join("line")
      .attr("x1",d=>x(d)).attr("x2",d=>x(d)).attr("y1",top).attr("y2",top+H)
      .attr("stroke","#d4d4d4").attr("stroke-width",0.9).attr("stroke-dasharray","3,2.5");
    g.selectAll(".gy").data(residualTicks).join("line")
      .attr("x1",c.x0).attr("x2",c.x1).attr("y1",d=>y(d)).attr("y2",d=>y(d))
      .attr("stroke","#d4d4d4").attr("stroke-width",0.9).attr("stroke-dasharray","3,2.5");
    g.append("rect").attr("x",c.x0).attr("y",top).attr("width",c.x1-c.x0).attr("height",H)
      .attr("fill","none").attr("stroke","#cccccc").attr("stroke-width",1.3);
    g.selectAll(".yt").data(residualTicks).join("text")
      .attr("x",c.x0-6).attr("y",d=>y(d)).attr("dy","0.36em").attr("text-anchor","end")
      .style("font-size",FS).text(d=>d<0?"\u2212"+Math.abs(d):d);
    g.append("text").attr("transform",`translate(${c.labX},${top+H/2}) rotate(-90)`)
      .attr("text-anchor","middle").attr("dy","0.36em").style("font-size",FS).text("Residual/(CLR/2) %");
    g.append("text").attr("x",(c.x0+c.x1)/2).attr("y",top-5.5).attr("text-anchor","middle")
      .style("font-size",FS).text(`RETRAINING CADENCE = ${cadences[ri]} with Fixed Train Size`);
    const [gr,ye,re]=panelData[ci*3+ri];
    g.selectAll(".pg").data(gr).join("circle").attr("cx",d=>x(d[0])).attr("cy",d=>y(d[1])).attr("r",2.9)
      .attr("fill",COLORS.green).attr("fill-opacity",0.85);
    g.selectAll(".py").data(ye).join("path").attr("d",xMark)
      .attr("transform",d=>`translate(${x(d[0])},${y(d[1])}) rotate(45)`).attr("fill",COLORS.yellow).attr("fill-opacity",0.85);
    g.selectAll(".pr").data(re).join("path").attr("d",xMark)
      .attr("transform",d=>`translate(${x(d[0])},${y(d[1])}) rotate(45)`).attr("fill",COLORS.red).attr("fill-opacity",0.85);
    if(ri===2){
      g.selectAll(".xt").data(c.ticks).join("text").attr("x",d=>x(d)).attr("y",top+H+18)
        .attr("text-anchor","middle").style("font-size",FS).text(d=>d);
      g.append("text").attr("x",(c.x0+c.x1)/2).attr("y",top+H+35).attr("text-anchor","middle")
        .style("font-size",FS).text("Manufacturing Year");
    }
  });
});
</script></body></html>
